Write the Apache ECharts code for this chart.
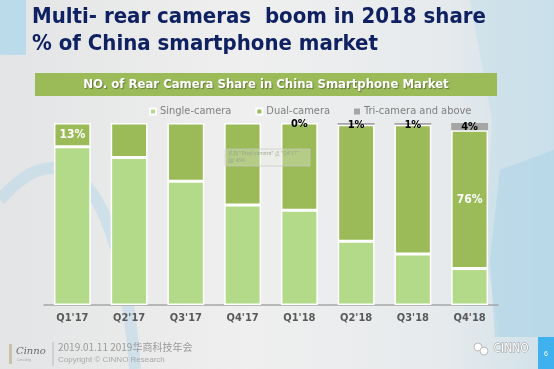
<!DOCTYPE html>
<html>
<head>
<meta charset="utf-8">
<script src="https://cdn.jsdelivr.net/npm/echarts@6/dist/echarts.min.js"></script>
<style>
html,body{margin:0;padding:0;background:#ebebeb;}
#chart{width:554px;height:369px;}
</style>
</head>
<body>
<div id="chart"></div>
<script>
const categories = ["Q1'17", "Q2'17", "Q3'17", "Q4'17", "Q1'18", "Q2'18", "Q3'18", "Q4'18"];
const singleCamera = [87, 81, 68, 55, 52, 35, 28, 20];
const dualCamera = [13, 19, 32, 45, 48, 64, 71, 76];
const triCamera = [0, 0, 0, 0, 0, 1, 1, 4];
const dualLabelShown = [true, false, false, false, false, false, false, true];
const triLabelShown = [false, false, false, false, true, true, true, true];
const seriesNames = ['Single-camera', 'Dual-camera', 'Tri-camera and above'];
const titleLines = ['Multi- rear cameras  boom in 2018 share', '% of China smartphone market'];
const chartHeader = 'NO. of Rear Camera Share in China Smartphone Market';

const chart = echarts.init(document.getElementById('chart'), null, {renderer: 'canvas'});

const titleFont = '"DejaVu Sans Condensed", "DejaVu Sans", sans-serif';

const option = {
  backgroundColor: {
    type: 'linear', x: 0, y: 0, x2: 1, y2: 0,
    colorStops: [
      {offset: 0, color: '#e3e4e5'},
      {offset: 0.45, color: '#efefef'},
      {offset: 0.8, color: '#e6eaec'},
      {offset: 1, color: '#cfe1ea'}
    ]
  },
  animation: false,
  graphic: [
    // background decorations
    {type: 'polygon', z: -10, silent: true, shape: {points: [[470,0],[554,0],[554,337],[500,337],[485,250],[492,120]]},
      style: {fill: 'rgba(196,222,234,0.55)'}},
    {type: 'polygon', z: -9, silent: true, shape: {points: [[500,170],[554,150],[554,337],[495,337],[490,260]]},
      style: {fill: 'rgba(170,210,230,0.5)'}},
    {type: 'rect', z: -8, silent: true, shape: {x: 0, y: 0, width: 26, height: 55}, style: {fill: '#bcdbea'}},
    {type: 'bezierCurve', z: -8, silent: true, shape: {x1: 0, y1: 200, cpx1: 60, cpy1: 130, cpx2: 120, cpy2: 170, x2: 135, y2: 369},
      style: {stroke: 'rgba(175,212,232,0.45)', lineWidth: 12, fill: null}},
    // title
    {type: 'text', left: 32, top: 6, style: {text: titleLines[0], font: 'bold 22px ' + titleFont, fill: '#0f2161'}},
    {type: 'text', left: 32, top: 33, style: {text: titleLines[1], font: 'bold 22px ' + titleFont, fill: '#0f2161'}},
    // header box
    {type: 'rect', shape: {x: 35, y: 73, width: 462, height: 23}, style: {fill: '#9bbb59'}},
    {type: 'text', x: 266, y: 84.5, style: {text: chartHeader, font: 'bold 13px "DejaVu Sans Condensed", "DejaVu Sans", sans-serif', fill: '#ffffff', align: 'center', verticalAlign: 'middle', textShadowColor: 'rgba(0,0,0,0.35)', textShadowBlur: 1, textShadowOffsetX: 1, textShadowOffsetY: 1}},
    // tooltip artifact
    {type: 'rect', z: 50, shape: {x: 225, y: 149, width: 85, height: 17}, style: {fill: 'rgba(230,238,220,0.35)', stroke: 'rgba(200,200,200,0.7)', lineWidth: 1}},
    {type: 'text', z: 51, left: 228, top: 150, style: {text: '系列 "Dual-camera" 点 "Q4\'17"\n值: 45%', font: '5px "Noto Sans CJK SC", sans-serif', fill: 'rgba(150,160,140,0.9)', lineHeight: 7}},
    // footer left
    {type: 'rect', shape: {x: 9, y: 344, width: 3, height: 20}, style: {fill: '#c9c2a8'}},
    {type: 'text', left: 16, top: 346, style: {text: 'Cinno', font: 'italic 10px "DejaVu Serif", serif', fill: '#6a6a6a'}},
    {type: 'text', left: 17, top: 359, style: {text: 'Consulting', font: '3px sans-serif', fill: '#aaaaaa'}},
    {type: 'line', shape: {x1: 53, y1: 342, x2: 53, y2: 366}, style: {stroke: '#bbbbbb', lineWidth: 1}},
    {type: 'text', left: 58, top: 342, style: {text: '2019.01.11 2019华商科技年会', font: '10px "Noto Sans CJK SC", sans-serif', fill: '#9a9a9a'}},
    {type: 'text', left: 58, top: 356, style: {text: 'Copyright © CINNO Research', font: '8px "Liberation Sans", sans-serif', fill: '#a8a8a8'}},
    // footer right
    {type: 'circle', shape: {cx: 478, cy: 347, r: 4}, style: {fill: '#ffffff', stroke: '#bbbbbb', lineWidth: 1}},
    {type: 'circle', shape: {cx: 484, cy: 351, r: 4}, style: {fill: '#ffffff', stroke: '#bbbbbb', lineWidth: 1}},
    {type: 'text', left: 493, top: 342, style: {text: 'CINNO', font: '12px "DejaVu Sans Condensed", sans-serif', fill: '#ffffff', stroke: '#9a9a9a', lineWidth: 1}},
    {type: 'rect', shape: {x: 538, y: 337, width: 16, height: 32}, style: {fill: '#3fb1ef'}},
    {type: 'text', x: 546, y: 354, style: {text: '6', font: '7px sans-serif', fill: '#ffffff', align: 'center', verticalAlign: 'middle'}}
  ],
  legend: {
    data: seriesNames,
    left: 144,
    top: 101,
    icon: 'rect',
    itemWidth: 6,
    itemHeight: 6,
    itemGap: 24,
    textStyle: {color: '#7f7f7f', fontSize: 11, fontFamily: '"DejaVu Sans Condensed", "DejaVu Sans", sans-serif', padding: [0, 0, 0, -1]}
  },
  grid: {left: 44, right: 56, top: 123, bottom: 64},
  xAxis: {
    type: 'category',
    data: categories,
    axisLine: {lineStyle: {color: '#a6a6a6', width: 1.5}},
    axisTick: {show: false},
    axisLabel: {color: '#595959', fontWeight: 'bold', fontSize: 11, margin: 8, fontFamily: '"DejaVu Sans Condensed", "DejaVu Sans", sans-serif'}
  },
  yAxis: {type: 'value', min: 0, max: 100, show: false, splitLine: {show: false}},
  series: [
    {
      name: seriesNames[0], type: 'bar', stack: 'total', barCategoryGap: '35%',
      data: singleCamera,
      itemStyle: {color: '#b3da88', borderColor: '#ffffff', borderWidth: 1.5}
    },
    {
      name: seriesNames[1], type: 'bar', stack: 'total',
      data: dualCamera.map((v, i) => ({
        value: v,
        label: {show: dualLabelShown[i], position: i === 0 ? 'inside' : 'inside', formatter: '{c}%', color: '#ffffff', fontWeight: 'bold', fontSize: 12, fontFamily: '"DejaVu Sans Condensed", "DejaVu Sans", sans-serif'}
      })),
      itemStyle: {color: '#9bbb59', borderColor: '#ffffff', borderWidth: 1.5}
    },
    {
      name: seriesNames[2], type: 'bar', stack: 'total',
      data: triCamera.map((v, i) => ({
        value: v,
        label: {show: triLabelShown[i], position: 'inside', formatter: '{c}%', color: '#000000', fontWeight: 'bold', fontSize: 11, offset: [0, 1], fontFamily: '"DejaVu Sans Condensed", "DejaVu Sans", sans-serif'}
      })),
      itemStyle: {color: '#a6a6a6', borderColor: '#ffffff', borderWidth: 0}
    }
  ]
};
chart.setOption(option);
</script>
</body>
</html>
